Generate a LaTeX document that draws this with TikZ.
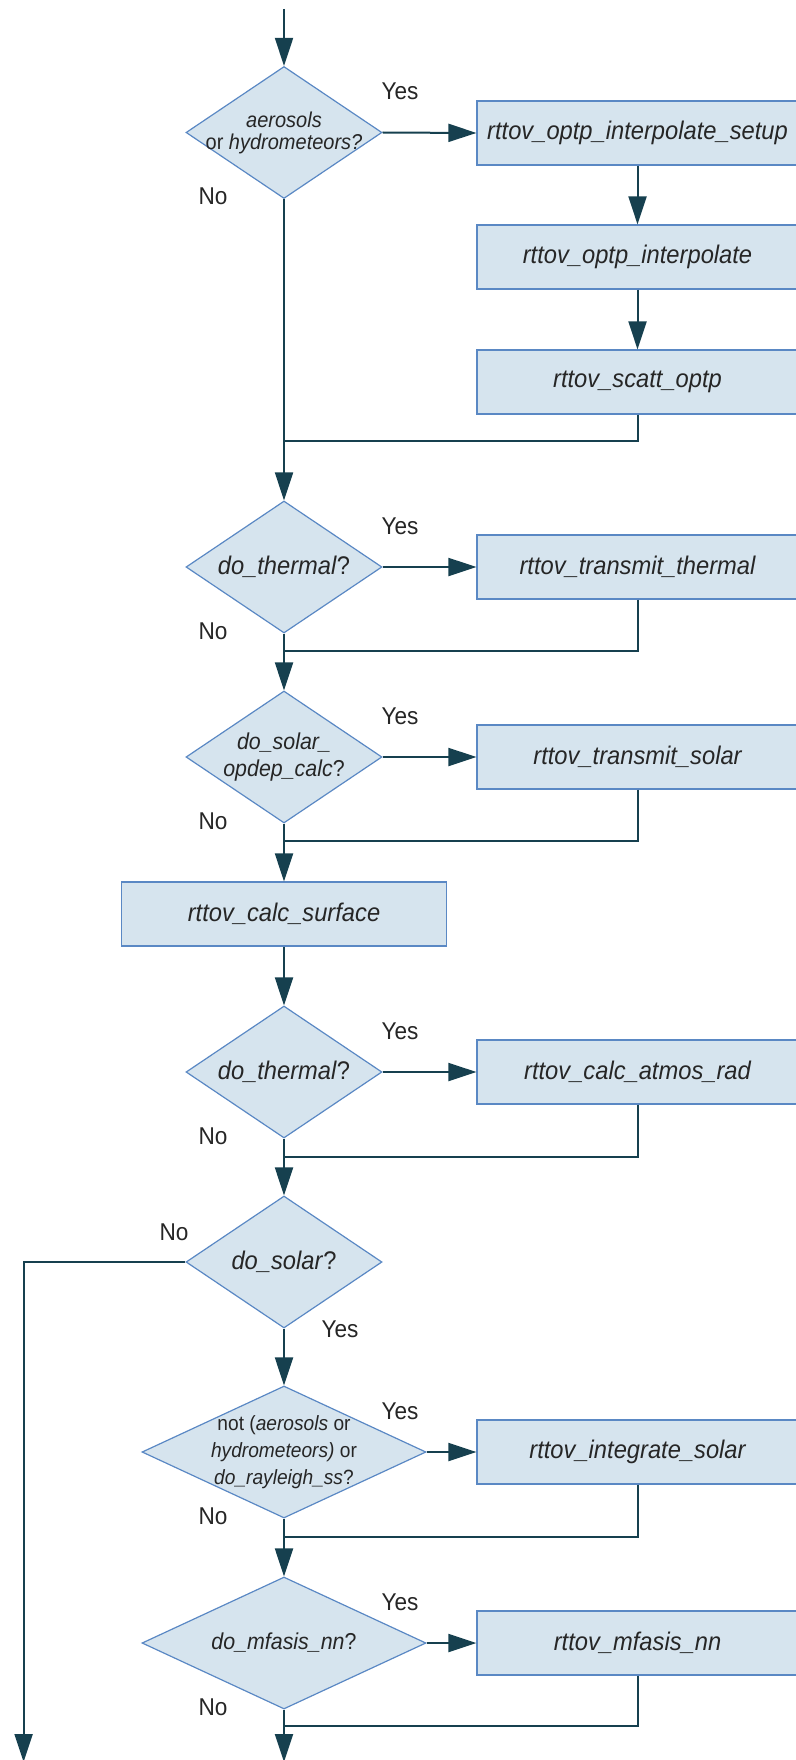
\documentclass[tikz,border=0pt]{standalone}
\usepackage{fontspec}
\setmainfont{Liberation Sans}[FakeStretch=0.93]
\usetikzlibrary{shapes.geometric,arrows.meta}

\definecolor{boxfill}{HTML}{D6E4EE}
\definecolor{boxline}{HTML}{5A88C4}
\definecolor{wirecol}{HTML}{16404F}
\definecolor{ink}{HTML}{262626}

\newcommand\flowbig{\fontsize{25.5}{30}\selectfont}
\newcommand\flowmid{\fontsize{23}{27.5}\selectfont}
\newcommand\flowsmall{\fontsize{21.5}{22}\selectfont}
\newcommand\flowsmaller{\fontsize{20.6}{27}\selectfont}
\newcommand\flowans{\fontsize{24.3}{28}\selectfont}

\begin{document}
\begin{tikzpicture}[x=1pt,y=-1pt,
  proc/.style={draw=boxline, fill=boxfill, line width=1.2pt, minimum height=64pt,
               inner sep=0pt, text=ink, font=\flowbig\itshape},
  decision/.style={diamond, draw=boxline, fill=boxfill, line width=1.2pt,
                   inner sep=0pt, minimum width=196pt, minimum height=132pt},
  widedecision/.style={decision, minimum width=284pt},
  dtext/.style={text=ink, align=center, inner sep=0pt},
  wire/.style={draw=wirecol, line width=2pt},
  flow/.style={wire, -{Triangle[length=28pt,width=18pt]}},
  answer/.style={text=ink, font=\flowans, inner sep=0pt},
]
\useasboundingbox (0,0) rectangle (795,1760);

% decisions
\node[decision, label={[dtext,font=\flowsmall]center:{\textit{aerosols}\\or \textit{hydrometeors?}}}] (d1) at (284,132.5) {};
\node[decision, label={[dtext,font=\flowbig]center:{\textit{do\_thermal}?}}] (d2) at (284,567) {};
\node[decision, label={[dtext,font=\flowmid]center:{\textit{do\_solar\_}\\\textit{opdep\_calc}?}}] (d3) at (284,757) {};
\node[decision, label={[dtext,font=\flowbig]center:{\textit{do\_thermal}?}}] (d4) at (284,1072) {};
\node[decision, label={[dtext,font=\flowbig]center:{\textit{do\_solar}?}}] (d5) at (284,1262) {};
\node[widedecision, label={[dtext,font=\flowsmaller]center:{not (\textit{aerosols} or\\\textit{hydrometeors)} or\\\textit{do\_rayleigh\_ss}?}}] (d6) at (284,1452) {};
\node[widedecision, label={[dtext,font=\flowmid]center:{\textit{do\_mfasis\_nn}?}}] (d7) at (284,1643) {};

% processing steps
\node[proc, minimum width=321pt] (b1) at (637.5,133) {rttov\_optp\_interpolate\_setup};
\node[proc, minimum width=321pt] (b2) at (637.5,257) {rttov\_optp\_interpolate};
\node[proc, minimum width=321pt] (b3) at (637.5,382) {rttov\_scatt\_optp};
\node[proc, minimum width=321pt] (b4) at (637.5,567) {rttov\_transmit\_thermal};
\node[proc, minimum width=321pt] (b5) at (637.5,757) {rttov\_transmit\_solar};
\node[proc, minimum width=325pt] (b6) at (284,914) {rttov\_calc\_surface};
\node[proc, minimum width=321pt] (b7) at (637.5,1072) {rttov\_calc\_atmos\_rad};
\node[proc, minimum width=321pt] (b8) at (637.5,1452) {rttov\_integrate\_solar};
\node[proc, minimum width=321pt] (b9) at (637.5,1643) {rttov\_mfasis\_nn};

% branch labels
\node[answer] (y1) at (400,91.5) {Yes};
\node[answer] (n1) at (213,196.5) {No};
\node[answer] (y2) at (400,526) {Yes};
\node[answer] (n2) at (213,631) {No};
\node[answer] (y3) at (400,716) {Yes};
\node[answer] (n3) at (213,821) {No};
\node[answer] (y4) at (400,1031) {Yes};
\node[answer] (n4) at (213,1136) {No};
\node[answer] (n5) at (174,1232) {No};
\node[answer] (y5) at (340,1329) {Yes};
\node[answer] (y6) at (400,1411) {Yes};
\node[answer] (n6) at (213,1516) {No};
\node[answer] (y7) at (400,1602) {Yes};
\node[answer] (n7) at (213,1707) {No};

% junctions and loose ends
\coordinate (start) at (284,9);
\coordinate (j1) at (284,441);
\coordinate (j2) at (284,651);
\coordinate (j3) at (284,841);
\coordinate (j4) at (284,1157);
\coordinate (j6) at (284,1537);
\coordinate (j7) at (284,1726);
\coordinate (out1) at (23.6,1762);
\coordinate (out2) at (284,1762);

% connectors
\draw[flow] (start) -- (d1.north);
\draw[flow] (d1.east) -- (b1.west);
\draw[flow] (b1.south) -- (b2.north);
\draw[flow] (b2.south) -- (b3.north);
\draw[wire] (b3.south) |- (j1);
\draw[flow] (d1.south) -- (d2.north);

\draw[flow] (d2.east) -- (b4.west);
\draw[wire] (b4.south) |- (j2);
\draw[flow] (d2.south) -- (d3.north);

\draw[flow] (d3.east) -- (b5.west);
\draw[wire] (b5.south) |- (j3);
\draw[flow] (d3.south) -- (b6.north);

\draw[flow] (b6.south) -- (d4.north);
\draw[flow] (d4.east) -- (b7.west);
\draw[wire] (b7.south) |- (j4);
\draw[flow] (d4.south) -- (d5.north);

\draw[flow] (d5.west) -| (out1);
\draw[flow] (d5.south) -- (d6.north);

\draw[flow] (d6.east) -- (b8.west);
\draw[wire] (b8.south) |- (j6);
\draw[flow] (d6.south) -- (d7.north);

\draw[flow] (d7.east) -- (b9.west);
\draw[wire] (b9.south) |- (j7);
\draw[flow] (d7.south) -- (out2);
\end{tikzpicture}
\end{document}
